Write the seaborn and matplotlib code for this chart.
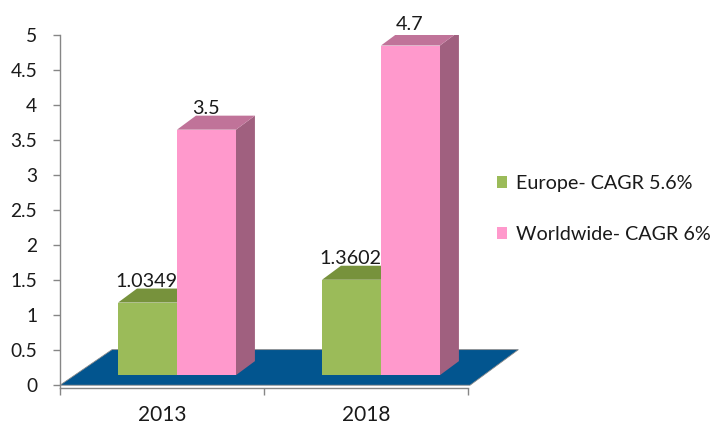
import matplotlib
matplotlib.use("Agg")
import matplotlib.pyplot as plt
from matplotlib.patches import Polygon, Patch
import seaborn as sns
import pandas as pd

# ---- data ----
years = ["2013", "2018"]
series = ["Europe- CAGR 5.6%", "Worldwide- CAGR 6%"]
europe = [1.0349, 1.3602]
worldwide = [3.5, 4.7]
value_labels_europe = ["1.0349", "1.3602"]
value_labels_world = ["3.5", "4.7"]
yticks = [0, 0.5, 1, 1.5, 2, 2.5, 3, 3.5, 4, 4.5, 5]

front_colors = ["#9BBB59", "#FF99CC"]
top_colors = ["#77923C", "#C07399"]
side_colors = ["#5F7530", "#A0607F"]
floor_color = "#02558F"

df = pd.DataFrame({
    "year": years * 2,
    "series": [series[0]] * 2 + [series[1]] * 2,
    "value": europe + worldwide,
})

sns.set_theme(style="white")
plt.rcParams["font.family"] = ["Lato", "DejaVu Sans"]

fig = plt.figure(figsize=(7.11, 4.26), dpi=100)
ax = fig.add_axes([60 / 711, (426 - 388) / 426, 408 / 711, (388 - 34.5) / 426])

sns.barplot(data=df, x="year", y="value", hue="series", palette=front_colors,
            width=0.578, ax=ax, legend=False, linewidth=0, saturation=1, zorder=3)

# 3D geometry (data units)
y_base = 0.143      # front face bottom
x_shift = 0.0735    # front plane shift
ddx = 0.093         # depth offset x
ddy = 0.2           # depth offset y

ax.set_xlim(-0.5, 1.5)
ax.set_ylim(-0.04, 5)

# floor
floor = Polygon([(-0.5, 0), (1.51, 0), (1.51 + 0.237, 0.507), (-0.5 + 0.255, 0.507)],
                closed=True, facecolor=floor_color, edgecolor="#8a8a8a", linewidth=0.6,
                zorder=1, clip_on=False)
ax.add_patch(floor)

patches = list(ax.patches)
bars = [p for p in patches if p is not floor]
labels_all = value_labels_europe + value_labels_world
for i, p in enumerate(bars):
    s = i // 2
    h = p.get_height()
    x0 = p.get_x() + x_shift
    w = p.get_width()
    p.set_x(x0)
    p.set_y(y_base)
    z = 2 + s * 2
    p.set_zorder(z + 1)
    top = y_base + h
    side = Polygon([(x0 + w, y_base), (x0 + w + ddx, y_base + ddy),
                    (x0 + w + ddx, top + ddy), (x0 + w, top)],
                   closed=True, facecolor=side_colors[s], linewidth=0, zorder=z)
    topf = Polygon([(x0, top), (x0 + ddx, top + ddy), (x0 + w + ddx, top + ddy), (x0 + w, top)],
                   closed=True, facecolor=top_colors[s], linewidth=0, zorder=z)
    ax.add_patch(side)
    ax.add_patch(topf)
    ax.text(x0 + w / 2 - 0.005, top + ddy + 0.02, labels_all[i], ha="center", va="baseline",
            fontsize=14.2, color="#1a1a1a", zorder=10, clip_on=False)

# axes styling
for sp in ["top", "right"]:
    ax.spines[sp].set_visible(False)
for sp in ["left", "bottom"]:
    ax.spines[sp].set_color("#868686")
    ax.spines[sp].set_linewidth(1.0)

ax.set_yticks(yticks)
ax.set_yticklabels([f"{t:g}" for t in yticks])
ax.tick_params(axis="y", direction="out", length=5, width=1, color="#868686",
               pad=11.5, labelsize=13.8, labelcolor="#1a1a1a", left=True)
ax.set_xticks([0, 1])
ax.set_xticklabels(years)
ax.tick_params(axis="x", which="major", length=0, pad=12.5, labelsize=15, labelcolor="#1a1a1a")
ax.set_xticks([-0.5, 0.5, 1.5], minor=True)
ax.tick_params(axis="x", which="minor", direction="out", length=5, width=1, color="#868686", bottom=True)
ax.set_xlabel("")
ax.set_ylabel("")
ax.grid(False)

handles = [Patch(facecolor=front_colors[0], edgecolor="none"),
           Patch(facecolor=front_colors[1], edgecolor="none")]
fig.legend(handles, series, loc="upper left", bbox_to_anchor=(497 / 711, 1 - 175 / 426),
           frameon=False, fontsize=14.2, handlelength=0.52, handleheight=0.52,
           handletextpad=0.42, labelspacing=1.72, borderpad=0, borderaxespad=0,
           labelcolor="#1a1a1a")

fig.savefig("out.png", dpi=100)
